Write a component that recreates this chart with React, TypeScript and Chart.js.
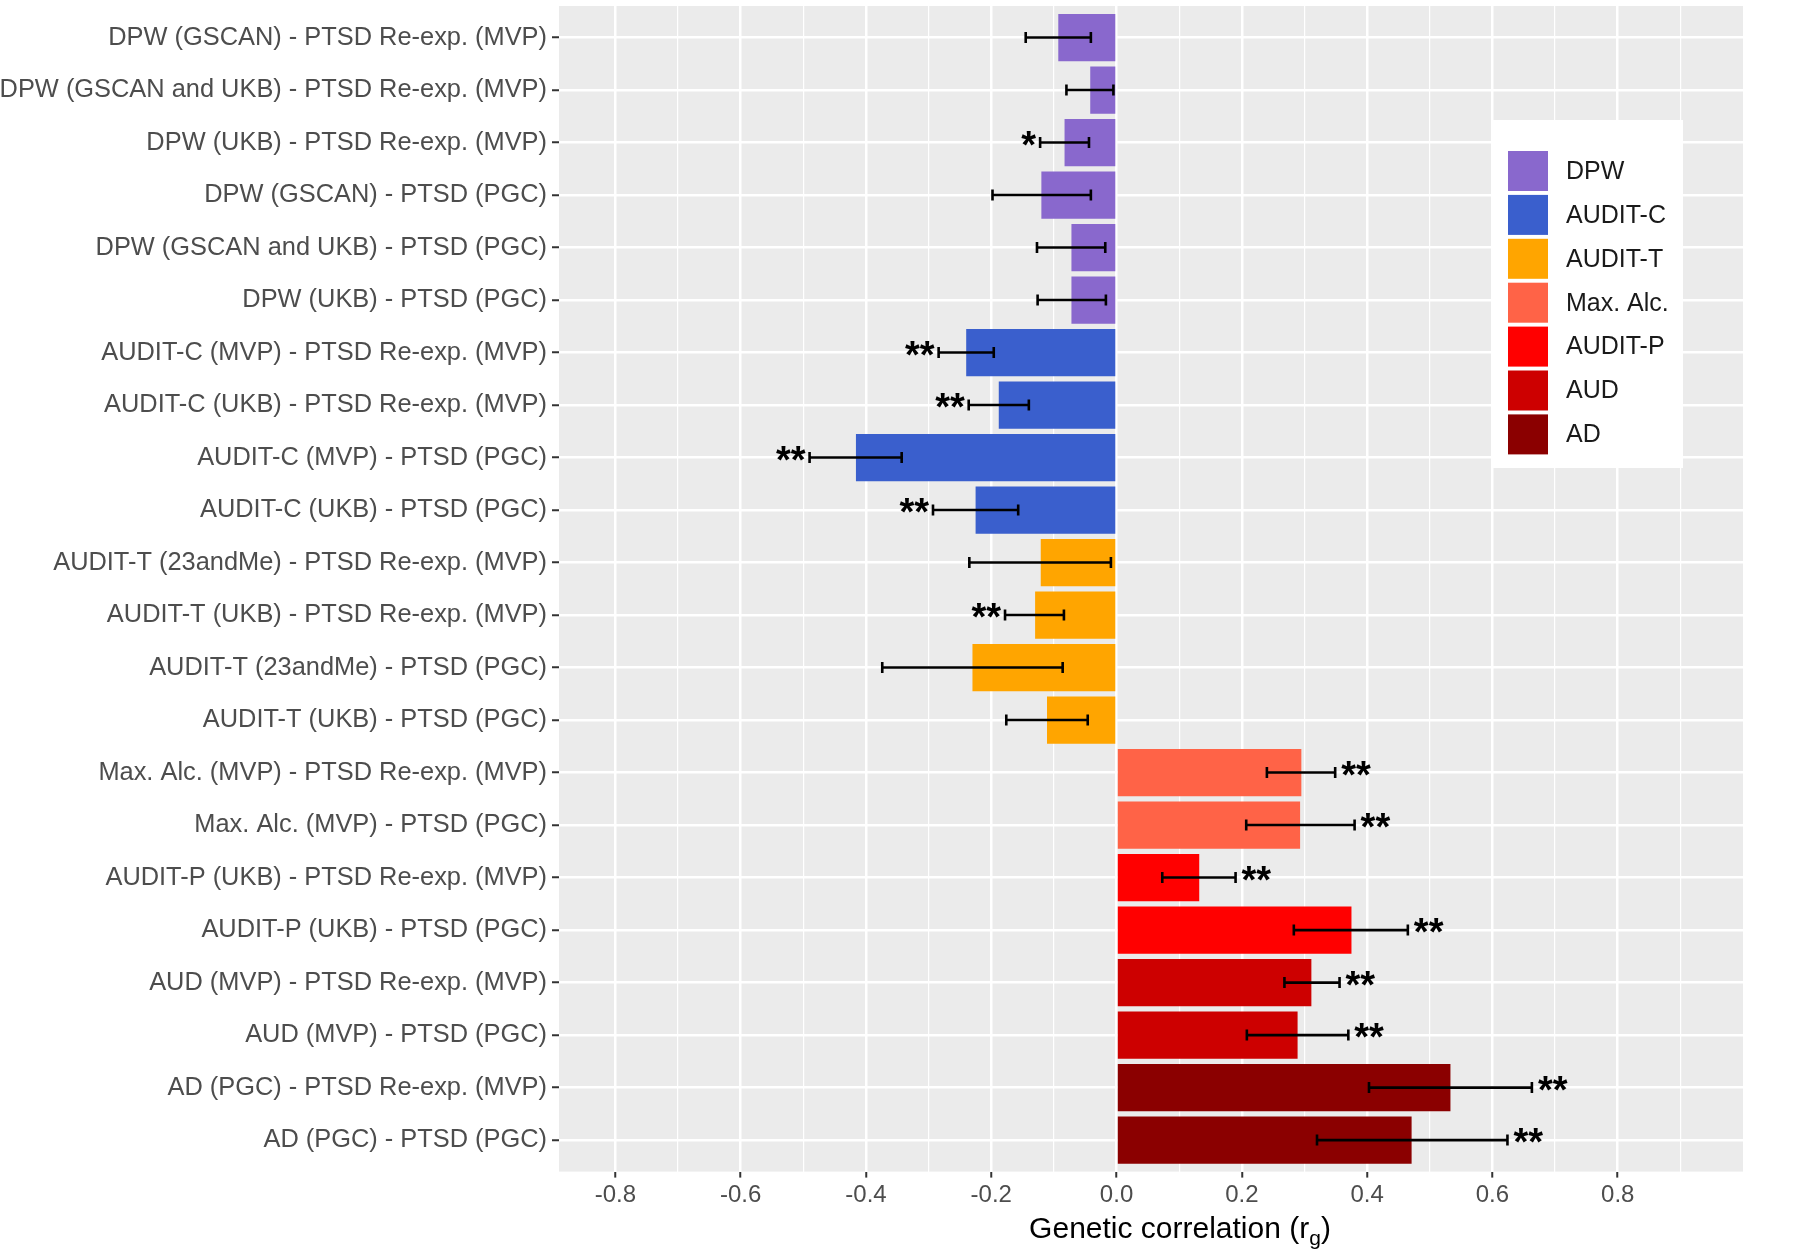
import React, { useEffect, useRef } from "react";
import { Chart, registerables } from "chart.js";

Chart.register(...registerables);

// ---------- data ----------
const categories = [
  "DPW (GSCAN) - PTSD Re-exp. (MVP)",
  "DPW (GSCAN and UKB) - PTSD Re-exp. (MVP)",
  "DPW (UKB) - PTSD Re-exp. (MVP)",
  "DPW (GSCAN) - PTSD (PGC)",
  "DPW (GSCAN and UKB) - PTSD (PGC)",
  "DPW (UKB) - PTSD (PGC)",
  "AUDIT-C (MVP) - PTSD Re-exp. (MVP)",
  "AUDIT-C (UKB) - PTSD Re-exp. (MVP)",
  "AUDIT-C (MVP) - PTSD (PGC)",
  "AUDIT-C (UKB) - PTSD (PGC)",
  "AUDIT-T (23andMe) - PTSD Re-exp. (MVP)",
  "AUDIT-T (UKB) - PTSD Re-exp. (MVP)",
  "AUDIT-T (23andMe) - PTSD (PGC)",
  "AUDIT-T (UKB) - PTSD (PGC)",
  "Max. Alc. (MVP) - PTSD Re-exp. (MVP)",
  "Max. Alc. (MVP) - PTSD (PGC)",
  "AUDIT-P (UKB) - PTSD Re-exp. (MVP)",
  "AUDIT-P (UKB) - PTSD (PGC)",
  "AUD (MVP) - PTSD Re-exp. (MVP)",
  "AUD (MVP) - PTSD (PGC)",
  "AD (PGC) - PTSD Re-exp. (MVP)",
  "AD (PGC) - PTSD (PGC)",
];

const estimates = [
  -0.093, -0.042, -0.083, -0.12, -0.072, -0.072,
  -0.24, -0.188, -0.416, -0.225,
  -0.121, -0.13, -0.23, -0.111,
  0.295, 0.293, 0.132, 0.375, 0.311, 0.289, 0.533, 0.471,
];

const lowerCI = [
  -0.145, -0.08, -0.122, -0.198, -0.127, -0.126,
  -0.284, -0.236, -0.49, -0.293,
  -0.235, -0.178, -0.374, -0.176,
  0.24, 0.207, 0.073, 0.283, 0.268, 0.208, 0.403, 0.32,
];

const upperCI = [
  -0.041, -0.005, -0.044, -0.041, -0.018, -0.017,
  -0.196, -0.14, -0.343, -0.157,
  -0.009, -0.084, -0.086, -0.046,
  0.349, 0.38, 0.19, 0.465, 0.356, 0.37, 0.663, 0.624,
];

const significance = [
  "", "", "*", "", "", "",
  "**", "**", "**", "**",
  "", "**", "", "",
  "**", "**", "**", "**", "**", "**", "**", "**",
];

const rowGroups = [
  "DPW", "DPW", "DPW", "DPW", "DPW", "DPW",
  "AUDIT-C", "AUDIT-C", "AUDIT-C", "AUDIT-C",
  "AUDIT-T", "AUDIT-T", "AUDIT-T", "AUDIT-T",
  "Max. Alc.", "Max. Alc.", "AUDIT-P", "AUDIT-P", "AUD", "AUD", "AD", "AD",
];

const legendGroups = ["DPW", "AUDIT-C", "AUDIT-T", "Max. Alc.", "AUDIT-P", "AUD", "AD"];
const groupColors = ["#8968CD", "#3A5FCD", "#FFA500", "#FF6347", "#FF0000", "#CD0000", "#8B0000"];

const xMajorTicks = [-0.8, -0.6, -0.4, -0.2, 0, 0.2, 0.4, 0.6, 0.8];
const xTickLabels = ["-0.8", "-0.6", "-0.4", "-0.2", "0.0", "0.2", "0.4", "0.6", "0.8"];
const xMinorTicks = [-0.7, -0.5, -0.3, -0.1, 0.1, 0.3, 0.5, 0.7, 0.9];

const FONT = '"Liberation Sans", Arial, Helvetica, sans-serif';

function majorIndex(v: number): number {
  return xMajorTicks.findIndex((m) => Math.abs(m - v) < 1e-6);
}

export default function App() {
  const canvasRef = useRef<HTMLCanvasElement | null>(null);

  useEffect(() => {
    const canvas = canvasRef.current;
    if (!canvas) return;

    const backgroundPlugin = {
      id: "panelBackground",
      beforeDraw(chart: any) {
        const { ctx, chartArea } = chart;
        ctx.save();
        ctx.fillStyle = "#FFFFFF";
        ctx.fillRect(0, 0, chart.width, chart.height);
        ctx.fillStyle = "#EBEBEB";
        ctx.fillRect(
          chartArea.left,
          chartArea.top,
          chartArea.right - chartArea.left,
          chartArea.bottom - chartArea.top
        );
        ctx.restore();
      },
    };

    const errorBarPlugin = {
      id: "errorBars",
      afterDatasetsDraw(chart: any) {
        const { ctx } = chart;
        const xs = chart.scales.x;
        const ys = chart.scales.y;
        const capHalf = Math.abs(ys.getPixelForValue(1) - ys.getPixelForValue(0)) * 0.105;
        ctx.save();
        ctx.strokeStyle = "#000000";
        ctx.lineWidth = 2.6;
        for (let i = 0; i < categories.length; i++) {
          const y = ys.getPixelForValue(i);
          const x1 = xs.getPixelForValue(lowerCI[i]);
          const x2 = xs.getPixelForValue(upperCI[i]);
          ctx.beginPath();
          ctx.moveTo(x1, y);
          ctx.lineTo(x2, y);
          ctx.moveTo(x1, y - capHalf);
          ctx.lineTo(x1, y + capHalf);
          ctx.moveTo(x2, y - capHalf);
          ctx.lineTo(x2, y + capHalf);
          ctx.stroke();
          const mark = significance[i];
          if (mark) {
            ctx.fillStyle = "#000000";
            ctx.font = `bold 38px ${FONT}`;
            ctx.textBaseline = "alphabetic";
            if (estimates[i] < 0) {
              ctx.textAlign = "right";
              ctx.fillText(mark, x1 - 4, y + 15);
            } else {
              ctx.textAlign = "left";
              ctx.fillText(mark, x2 + 6, y + 15);
            }
          }
        }
        ctx.restore();
      },
    };

    const legendAndTitlePlugin = {
      id: "legendAndTitle",
      afterDraw(chart: any) {
        const { ctx, chartArea } = chart;
        ctx.save();
        // legend box
        const boxX = 1492;
        const boxY = 120;
        ctx.fillStyle = "#FFFFFF";
        ctx.fillRect(boxX, boxY, 191, 348);
        legendGroups.forEach((g, i) => {
          const top = boxY + 31 + i * 43.9;
          ctx.fillStyle = groupColors[i];
          ctx.fillRect(boxX + 16, top, 40, 40);
          ctx.fillStyle = "#1A1A1A";
          ctx.font = `25px ${FONT}`;
          ctx.textAlign = "left";
          ctx.textBaseline = "middle";
          ctx.fillText(g, boxX + 74, top + 21);
        });

        // axis title with subscript
        const main = "Genetic correlation (r";
        const sub = "g";
        const close = ")";
        const mainFont = `30px ${FONT}`;
        const subFont = `21px ${FONT}`;
        ctx.font = mainFont;
        const wMain = ctx.measureText(main).width;
        const wClose = ctx.measureText(close).width;
        ctx.font = subFont;
        const wSub = ctx.measureText(sub).width;
        const total = wMain + wSub + wClose;
        const cx = (chartArea.left + chartArea.right) / 2 + 29;
        let x = cx - total / 2;
        const baseY = 1238;
        ctx.fillStyle = "#000000";
        ctx.textAlign = "left";
        ctx.textBaseline = "alphabetic";
        ctx.font = mainFont;
        ctx.fillText(main, x, baseY);
        x += wMain;
        ctx.font = subFont;
        ctx.fillText(sub, x, baseY + 7);
        x += wSub;
        ctx.font = mainFont;
        ctx.fillText(close, x, baseY);
        ctx.restore();
      },
    };

    const chart = new Chart(canvas, {
      type: "bar",
      data: {
        datasets: [
          {
            data: estimates.map((v, i) => ({ x: v, y: i })),
            backgroundColor: rowGroups.map((g) => groupColors[legendGroups.indexOf(g)]),
            borderWidth: 0,
            barPercentage: 0.9,
            categoryPercentage: 1.0,
          },
        ],
      },
      options: {
        indexAxis: "y",
        animation: false,
        responsive: false,
        maintainAspectRatio: false,
        devicePixelRatio: 1,
        layout: { padding: { left: 0, right: 57, top: 6, bottom: 0 } },
        plugins: {
          legend: { display: false },
          tooltip: { enabled: false },
          title: { display: false },
        },
        scales: {
          x: {
            type: "linear",
            min: -0.89,
            max: 1.0,
            offset: false,
            afterBuildTicks: (axis: any) => {
              axis.ticks = [...xMajorTicks, ...xMinorTicks]
                .sort((a, b) => a - b)
                .map((v) => ({ value: v }));
            },
            afterFit: (axis: any) => {
              axis.height = 78.4;
              axis.paddingLeft = 0;
              axis.paddingRight = 0;
            },
            border: { display: false },
            grid: {
              offset: false,
              color: "#FFFFFF",
              lineWidth: (c: any) => (c.tick && majorIndex(c.tick.value) >= 0 ? 2.5 : 1.2),
              drawTicks: true,
              tickLength: 6,
              tickWidth: 2,
              tickColor: (c: any) =>
                c.tick && majorIndex(c.tick.value) >= 0 ? "#333333" : "rgba(0,0,0,0)",
            },
            ticks: {
              autoSkip: false,
              maxRotation: 0,
              minRotation: 0,
              padding: 3,
              color: "#4D4D4D",
              font: { family: FONT, size: 24 },
              callback: (v: any) => {
                const k = majorIndex(Number(v));
                return k >= 0 ? xTickLabels[k] : "";
              },
            },
          },
          y: {
            type: "linear",
            min: -0.6,
            max: categories.length - 0.4,
            reverse: true,
            offset: false,
            afterBuildTicks: (axis: any) => {
              axis.ticks = categories.map((_, i) => ({ value: i }));
            },
            afterFit: (axis: any) => {
              axis.width = 559;
              axis.paddingTop = 0;
              axis.paddingBottom = 0;
            },
            border: { display: false },
            grid: {
              offset: false,
              color: "#FFFFFF",
              lineWidth: 2.5,
              drawTicks: true,
              tickLength: 7,
              tickWidth: 2,
              tickColor: "#333333",
            },
            ticks: {
              autoSkip: false,
              padding: 5,
              color: "#4D4D4D",
              font: { family: FONT, size: 25.4 },
              callback: (v: any) => categories[Math.round(Number(v))] ?? "",
            },
          },
        },
      } as any,
      plugins: [backgroundPlugin, errorBarPlugin, legendAndTitlePlugin],
    });

    return () => {
      chart.destroy();
    };
  }, []);

  return (
    <div style={{ position: "absolute", left: 0, top: 0, width: 1800, height: 1250, background: "#FFFFFF" }}>
      <canvas
        ref={canvasRef}
        width={1800}
        height={1250}
        style={{ width: 1800, height: 1250, display: "block" }}
      />
    </div>
  );
}
